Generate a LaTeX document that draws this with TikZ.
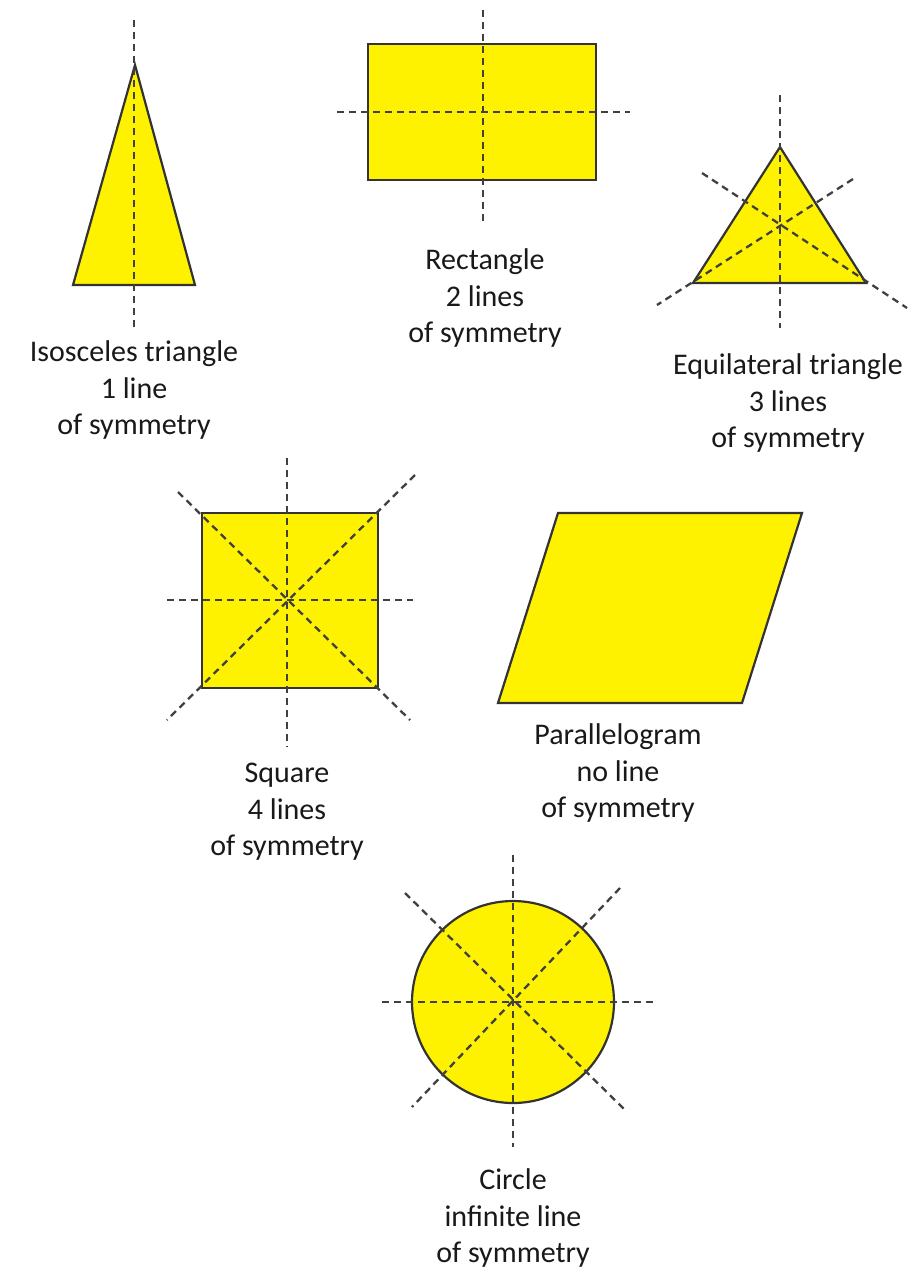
\documentclass[tikz,border=0pt]{standalone}
\usepackage{fontspec}
\setmainfont{Carlito}
\usepackage{tikz}

\begin{document}
\begin{tikzpicture}[
    x=1pt, y=-1pt,
    figfill/.style={fill=yellow, draw=black!80, line width=2.2pt, line join=miter},
    symline/.style={draw=black!75, line width=2.3pt, dash pattern=on 7pt off 5pt},
    shapename/.style={align=center, inner sep=0pt, text=black!90, font=\fontsize{30}{36.5}\selectfont}
]
  \useasboundingbox[fill=white] (0,0) rectangle (909,1272);

  % Isosceles triangle
  \draw[figfill] (135,65) -- (195,285) -- (73,285) -- cycle;
  \coordinate (it1) at (134,20);
  \coordinate (it2) at (134,330);
  \draw[symline] (it1) -- (it2);
  \node[shapename] (isos) at (134,390) {Isosceles triangle\\1 line\\of symmetry};

  % Rectangle
  \draw[figfill] (368,44) rectangle (596,180);
  \coordinate (re1) at (483,10);
  \coordinate (re2) at (483,222);
  \coordinate (re3) at (337,112);
  \coordinate (re4) at (630,112);
  \draw[symline] (re1) -- (re2);
  \draw[symline] (re3) -- (re4);
  \node[shapename] (rect) at (485,298) {Rectangle\\2 lines\\of symmetry};

  % Equilateral triangle
  \draw[figfill] (780,147) -- (866,283) -- (693,283) -- cycle;
  \coordinate (eq1) at (780,95);
  \coordinate (eq2) at (780,328);
  \coordinate (eq3) at (702,173);
  \coordinate (eq4) at (907,308);
  \coordinate (eq5) at (853,179);
  \coordinate (eq6) at (657,305);
  \draw[symline] (eq1) -- (eq2);
  \draw[symline] (eq3) -- (eq4);
  \draw[symline] (eq5) -- (eq6);
  \node[shapename] (equi) at (788,403) {Equilateral triangle\\3 lines\\of symmetry};

  % Square
  \draw[figfill] (202,513) rectangle (378,688);
  \coordinate (sq1) at (287,458);
  \coordinate (sq2) at (287,747);
  \coordinate (sq3) at (167,600);
  \coordinate (sq4) at (413,600);
  \coordinate (sq5) at (178,492);
  \coordinate (sq6) at (410,720);
  \coordinate (sq7) at (415,475);
  \coordinate (sq8) at (167,720);
  \draw[symline] (sq1) -- (sq2);
  \draw[symline] (sq3) -- (sq4);
  \draw[symline] (sq5) -- (sq6);
  \draw[symline] (sq7) -- (sq8);
  \node[shapename] (squ) at (287,812) {Square\\4 lines\\of symmetry};

  % Parallelogram
  \draw[figfill] (558,513) -- (802,513) -- (742,703) -- (498,703) -- cycle;
  \node[shapename] (para) at (618,773) {Parallelogram\\no line\\of symmetry};

  % Circle
  \draw[figfill] (513,1002) circle[radius=101];
  \coordinate (ci1) at (513,855);
  \coordinate (ci2) at (513,1147);
  \coordinate (ci3) at (382,1002);
  \coordinate (ci4) at (655,1002);
  \coordinate (ci5) at (405,893);
  \coordinate (ci6) at (625,1110);
  \coordinate (ci7) at (620,888);
  \coordinate (ci8) at (412,1107);
  \draw[symline] (ci1) -- (ci2);
  \draw[symline] (ci3) -- (ci4);
  \draw[symline] (ci5) -- (ci6);
  \draw[symline] (ci7) -- (ci8);
  \node[shapename] (circ) at (513,1218) {Circle\\infinite line\\of symmetry};
\end{tikzpicture}
\end{document}
